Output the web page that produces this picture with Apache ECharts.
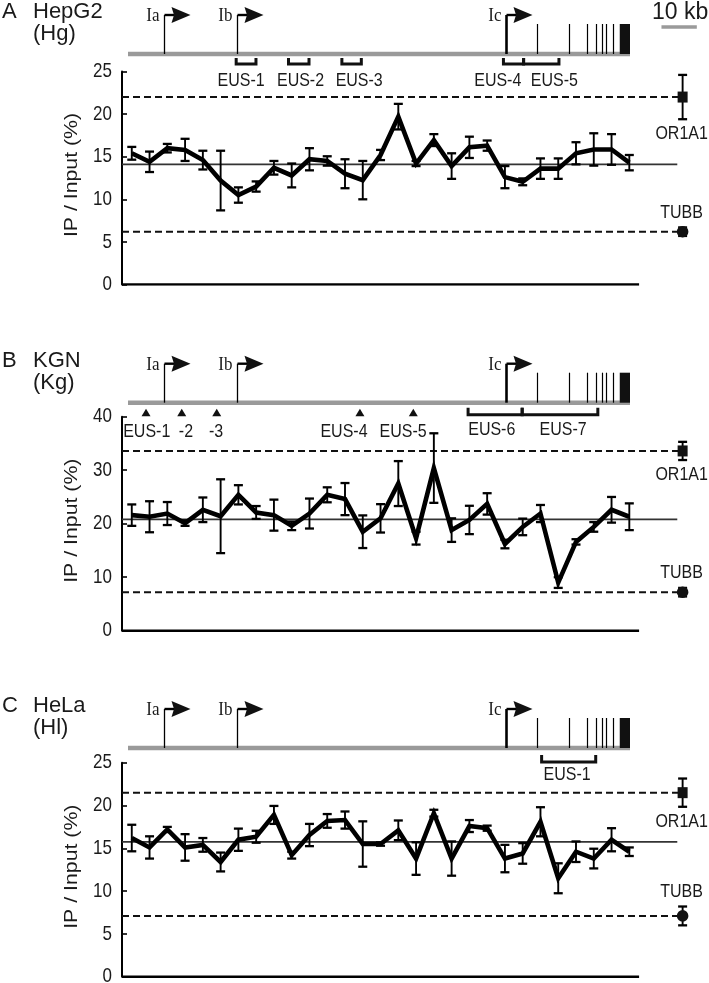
<!DOCTYPE html>
<html><head><meta charset="utf-8">
<script src="https://cdn.jsdelivr.net/npm/echarts@6/dist/echarts.min.js"></script>
<style>html,body{margin:0;padding:0;background:#fff}#c{width:709px;height:983px}</style>
</head><body><div id="c"></div>
<script>
// ---------------- DATA ----------------
const sites = [1,2,3,4,5,6,7,8,9,10,11,12,13,14,15,16,17,18,19,20,21,22,23,24,25,26,27,28,29];

const hgVals = [15.4,14.4,16.0,15.8,14.6,12.2,10.5,11.5,13.7,12.8,14.7,14.5,13.0,12.25,15.2,19.7,14.2,16.95,13.9,16.1,16.3,12.6,12.05,13.6,13.6,15.4,15.85,15.85,14.3];
const hgErr  = [0.75,1.2,0.5,1.3,1.1,3.5,0.9,0.6,0.8,1.4,1.3,0.55,1.7,2.25,0.6,1.5,0.3,0.7,1.5,1.25,0.6,1.3,0.4,1.2,1.2,1.3,1.9,1.8,0.9];
const hgMean = 14.1;
const hgCtrlVals = [22.0, 6.2];
const hgCtrlErr  = [2.6, 0.5];

const kgVals = [21.6,21.3,21.9,20.1,22.6,21.4,25.4,22.1,21.6,19.6,21.9,25.4,24.6,18.5,21.0,27.5,17.3,30.4,18.8,20.7,23.7,16.2,19.4,21.9,9.0,16.6,19.4,22.6,21.3];
const kgErr  = [2.0,2.9,2.15,0.5,2.3,6.9,1.8,1.2,2.9,0.8,2.8,1.4,3.0,3.05,2.65,4.2,1.2,6.5,2.2,2.65,2.0,0.8,1.55,1.6,1.0,0.5,0.9,2.4,2.5];
const kgMean = 20.8;
const kgCtrlVals = [33.6, 7.2];
const kgCtrlErr  = [1.7, 0.8];

const hlVals = [16.2,15.1,17.2,15.1,15.4,13.4,16.0,16.35,18.9,14.2,16.55,18.2,18.3,15.5,15.5,17.1,13.8,19.1,13.8,17.6,17.35,13.8,14.4,18.1,11.5,14.6,13.8,16.0,14.6];
const hlErr  = [1.55,1.3,0.3,1.55,0.8,1.1,1.3,0.7,1.05,0.4,1.3,0.8,1.0,2.65,0.2,1.15,1.9,0.4,2.0,0.7,0.3,1.6,1.2,1.7,1.75,1.2,1.15,1.35,0.5];
const hlMean = 15.75;
const hlCtrlVals = [21.5, 7.1];
const hlCtrlErr  = [1.65, 1.1];

const ctrlNames = ['OR1A1', 'TUBB'];
const controlSite = 32;           // x position (site units) of control markers

const hgTicks = [0,5,10,15,20,25];
const kgTicks = [0,10,20,30,40];
const hlTicks = [0,5,10,15,20,25];

const panelLetters = ['A','B','C'];
const cellNames = ['HepG2','KGN','HeLa'];
const cellAbbr = ['(Hg)','(Kg)','(Hl)'];
const yAxisName = 'IP / Input (%)';

// gene structure (kb)
const promoterNames = ['Ia','Ib','Ic'];
const promoterKb = [10.2, 30.9, 107.0];
const exonKb = [115.8, 124.7, 129.7, 132.5, 134.2, 135.3, 137.3];
const lastExonKb = [139.1, 142.0];
const geneSpanKb = [0, 142];
const scaleBarKb = [150.9, 160.9];
const scaleBarLabel = '10 kb';

// EUS regions / sites
const hgRegionNames = ['EUS-1','EUS-2','EUS-3','EUS-4','EUS-5'];
const hgRegionStart = [30.6, 45.4, 60.5, 106.2, 111.9];
const hgRegionEnd   = [36.2, 51.2, 66.0, 111.9, 121.9];
const hgRegionLabel = [32.0, 48.8, 65.4, 104.6, 120.6];

const kgSiteNames = ['EUS-1','-2','-3','EUS-4','EUS-5'];
const kgSiteKb    = [5.1, 15.2, 25.1, 65.6, 80.7];
const kgSiteLabel = [5.3, 16.4, 24.9, 61.1, 77.8];
const kgRegionNames = ['EUS-6','EUS-7'];
const kgRegionStart = [96.2, 111.5];
const kgRegionEnd   = [111.5, 132.9];
const kgRegionLabel = [102.9, 123.1];

const hlRegionNames = ['EUS-1'];
const hlRegionStart = [117.0];
const hlRegionEnd   = [132.3];
const hlRegionLabel = [124.2];

// ---------------- LAYOUT / STYLE ----------------
const FONT = "'Liberation Sans', Arial, sans-serif";
const SERIF = "'Liberation Serif', 'Times New Roman', serif";
const TXT = '#1a1a1a';
const STRETCH = 1.2;   // the figure's lettering is taller than it is wide
const mainX = {left:122, width:569.5, min:0.45, max:32.5, axisEnd:29.55, meanEnd:31.7, dashEnd:31.85};
const panels = [
  {vals:hgVals, err:hgErr, mean:hgMean, cv:hgCtrlVals, ce:hgCtrlErr, ticks:hgTicks, top:71.5, h:213, geneY:54,
   regions:{names:hgRegionNames, s:hgRegionStart, e:hgRegionEnd, l:hgRegionLabel, off:[4,10], labOff:27}, sites:null},
  {vals:kgVals, err:kgErr, mean:kgMean, cv:kgCtrlVals, ce:kgCtrlErr, ticks:kgTicks, top:416.7, h:214, geneY:402.7,
   regions:{names:kgRegionNames, s:kgRegionStart, e:kgRegionEnd, l:kgRegionLabel, off:[5,12], labOff:27.5},
   sites:{names:kgSiteNames, kb:kgSiteKb, l:kgSiteLabel}},
  {vals:hlVals, err:hlErr, mean:hlMean, cv:hlCtrlVals, ce:hlCtrlErr, ticks:hlTicks, top:762.7, h:214, geneY:748,
   regions:{names:hlRegionNames, s:hlRegionStart, e:hlRegionEnd, l:hlRegionLabel, off:[7,14], labOff:27}, sites:null}
];
const geneGrid = {left:128, width:572, min:0, max:161.8};

const grids = [], xAxes = [], yAxes = [], series = [], graphics = [];

function stext(txt, x, y, size, align, vAlign, fam, sy) {
  return {type:'text', x:x, y:y, scaleY: sy || STRETCH,
    style:{text:txt, x:0, y:0, fill:TXT, font: size + 'px ' + (fam || FONT), align:align, verticalAlign:vAlign}};
}

function errRender(params, api) {
  const x = api.value(0), v = api.value(1), e = api.value(2);
  const t = api.coord([x, v + e]), b = api.coord([x, v - e]);
  const cap = 4.5;
  return {type:'group', children:[
    {type:'line', shape:{x1:t[0], y1:t[1], x2:b[0], y2:b[1]}, style:{stroke:'#000', lineWidth:1.9}},
    {type:'line', shape:{x1:t[0]-cap, y1:t[1], x2:t[0]+cap, y2:t[1]}, style:{stroke:'#000', lineWidth:2.3}},
    {type:'line', shape:{x1:b[0]-cap, y1:b[1], x2:b[0]+cap, y2:b[1]}, style:{stroke:'#000', lineWidth:2.3}}
  ]};
}

function ctrlRender(params, api) {
  const x = api.value(0), v = api.value(1), e = api.value(2), k = api.value(3);
  const c = api.coord([x, v]), t = api.coord([x, v + e]), b = api.coord([x, v - e]);
  const cap = 4.5;
  const ch = [
    {type:'line', shape:{x1:t[0], y1:t[1], x2:b[0], y2:b[1]}, style:{stroke:'#000', lineWidth:1.9}},
    {type:'line', shape:{x1:t[0]-cap, y1:t[1], x2:t[0]+cap, y2:t[1]}, style:{stroke:'#000', lineWidth:2.3}},
    {type:'line', shape:{x1:b[0]-cap, y1:b[1], x2:b[0]+cap, y2:b[1]}, style:{stroke:'#000', lineWidth:2.3}}
  ];
  if (k === 0) {
    ch.push({type:'rect', shape:{x:c[0]-5, y:c[1]-5.5, width:10, height:11}, style:{fill:'#111'}});
    ch.push(stext(ctrlNames[0], c[0]-1, b[1]+15, 16, 'center', 'middle'));
  } else {
    ch.push({type:'circle', shape:{cx:c[0], cy:c[1], r:5.8}, style:{fill:'#111'}});
    ch.push(stext(ctrlNames[1], c[0]-1, t[1]-15, 16, 'center', 'middle'));
  }
  return {type:'group', children:ch};
}

function makeTickRender(P) {
  return function (params, api) {
    const p = api.coord([api.value(0), api.value(1)]);
    const ch = [stext(String(api.value(1)), p[0]-10, p[1], 17, 'right', 'middle')];
    if (params.dataIndex === 0) {
      const lo = P.ticks[0], hi = P.ticks[P.ticks.length-1];
      const m = api.coord([api.value(0), (lo + hi) / 2]);
      ch.push({type:'text', x:m[0]-50, y:m[1]-3, rotation:Math.PI/2, scaleX:1.12,
        style:{text:yAxisName, x:0, y:0, fill:TXT, font:'19px ' + FONT, align:'center', verticalAlign:'middle'}});
    }
    return {type:'group', children:ch};
  };
}

function promoterRender(params, api) {
  const kb = api.value(0), k = api.value(1);
  const p = api.coord([kb, 0]);
  const x = Math.round(p[0]) + 0.5, y0 = p[1];
  const ay = y0 - 39;
  const thick = k === 2;
  return {type:'group', children:[
    {type:'line', shape:{x1:x, y1:y0, x2:x, y2:ay}, style:{stroke:'#000', lineWidth: thick ? 2.6 : 1.3}},
    {type:'line', shape:{x1:x, y1:ay, x2:x+12, y2:ay}, style:{stroke:'#000', lineWidth:2.4}},
    {type:'polygon', shape:{points:[[x+7, ay-8],[x+26, ay],[x+7, ay+8],[x+9.5, ay]]}, style:{fill:'#111'}},
    stext(promoterNames[k], x-5, ay+1, 17, 'right', 'middle', SERIF, 1.1)
  ]};
}

function exonRender(params, api) {
  const p = api.coord([api.value(0), 0]);
  const x = Math.round(p[0]) + 0.5;
  return {type:'line', shape:{x1:x, y1:p[1], x2:x, y2:p[1]-30}, style:{stroke:'#000', lineWidth:1.2}};
}

function blockRender(params, api) {
  const a = api.coord([api.value(0), 0]), b = api.coord([api.value(1), 0]);
  return {type:'rect', shape:{x:a[0], y:a[1]-30, width:b[0]-a[0], height:30}, style:{fill:'#111'}};
}

function scaleRender(params, api) {
  const a = api.coord([api.value(0), 0]), b = api.coord([api.value(1), 0]);
  const y = a[1] - 27;
  return {type:'group', children:[
    {type:'line', shape:{x1:a[0], y1:y, x2:b[0], y2:y}, style:{stroke:'#9a9a9a', lineWidth:3.5}},
    stext(scaleBarLabel, (a[0]+b[0])/2 + 1, y-14, 23, 'center', 'middle', FONT, 1)
  ]};
}

function makeRegionRender(reg) {
  return function (params, api) {
    const i = params.dataIndex;
    const a = api.coord([api.value(0), 0]), b = api.coord([api.value(1), 0]), l = api.coord([api.value(2), 0]);
    const yT = a[1] + reg.off[0], yB = a[1] + reg.off[1];
    return {type:'group', children:[
      {type:'polyline', shape:{points:[[a[0], yT],[a[0], yB],[b[0], yB],[b[0], yT]]}, style:{stroke:'#111', lineWidth:3, fill:null}},
      stext(reg.names[i], l[0], a[1] + reg.labOff, 16, 'center', 'middle')
    ]};
  };
}

function makeSiteRender(st) {
  return function (params, api) {
    const i = params.dataIndex;
    const p = api.coord([api.value(0), 0]), l = api.coord([api.value(1), 0]);
    const cy = p[1] + 10;
    return {type:'group', children:[
      {type:'polygon', shape:{points:[[p[0]-4.5, cy+3.5],[p[0], cy-4],[p[0]+4.5, cy+3.5]]}, style:{fill:'#111'}},
      stext(st.names[i], l[0], p[1] + 29, 16, 'center', 'middle')
    ]};
  };
}

panels.forEach((P, pi) => {
  grids.push({left:mainX.left, width:mainX.width, top:P.top, height:P.h});
  const gi = grids.length - 1;
  xAxes.push({gridIndex:gi, type:'value', min:mainX.min, max:mainX.max, show:false});
  const yMax = P.ticks[P.ticks.length-1];
  const yInt = P.ticks[1] - P.ticks[0];
  yAxes.push({gridIndex:gi, type:'value', min:P.ticks[0], max:yMax, interval:yInt,
    axisLine:{show:true, lineStyle:{color:'#000', width:2}},
    axisTick:{show:true, inside:true, length:5, lineStyle:{color:'#000', width:1.6}},
    axisLabel:{show:false},
    splitLine:{show:false}});
  const ax = {xAxisIndex:gi, yAxisIndex:gi};
  series.push(Object.assign({type:'custom', renderItem:makeTickRender(P), z:2, silent:true,
    data: P.ticks.map(t => [mainX.min, t])}, ax));
  series.push(Object.assign({type:'line', data:[[mainX.min, 0],[mainX.axisEnd, 0]], symbol:'none', silent:true,
    lineStyle:{color:'#000', width:2.4}, z:2}, ax));
  series.push(Object.assign({type:'line', data:[[mainX.min, P.mean],[mainX.meanEnd, P.mean]], symbol:'none', silent:true,
    lineStyle:{color:'#333', width:1.6}, z:1}, ax));
  P.cv.forEach(v => {
    series.push(Object.assign({type:'line', data:[[mainX.min, v],[mainX.dashEnd, v]], symbol:'none', silent:true,
      lineStyle:{color:'#111', width:2, type:[7,4]}, z:1}, ax));
  });
  series.push(Object.assign({type:'custom', renderItem:errRender, z:3,
    data: sites.map((s, i) => [s, P.vals[i], P.err[i]])}, ax));
  series.push(Object.assign({type:'line', data: sites.map((s, i) => [s, P.vals[i]]), symbol:'none',
    lineStyle:{color:'#000', width:4.6, join:'miter'}, z:4}, ax));
  series.push(Object.assign({type:'custom', renderItem:ctrlRender, z:4,
    data: P.cv.map((v, k) => [controlSite, v, P.ce[k], k])}, ax));

  grids.push({left:geneGrid.left, width:geneGrid.width, top:P.geneY - 10, height:20});
  const gg = grids.length - 1;
  xAxes.push({gridIndex:gg, type:'value', min:geneGrid.min, max:geneGrid.max, show:false});
  yAxes.push({gridIndex:gg, type:'value', min:-1, max:1, show:false});
  const gx = {xAxisIndex:gg, yAxisIndex:gg};
  series.push(Object.assign({type:'line', data:[[geneSpanKb[0],0],[geneSpanKb[1],0]], symbol:'none', silent:true,
    lineStyle:{color:'#9a9a9a', width:4.5}, z:1}, gx));
  series.push(Object.assign({type:'custom', renderItem:promoterRender, z:3,
    data: promoterKb.map((kb, k) => [kb, k])}, gx));
  series.push(Object.assign({type:'custom', renderItem:exonRender, z:3, data: exonKb.map(kb => [kb])}, gx));
  series.push(Object.assign({type:'custom', renderItem:blockRender, z:3, data:[[lastExonKb[0], lastExonKb[1]]]}, gx));
  if (pi === 0) {
    series.push(Object.assign({type:'custom', renderItem:scaleRender, z:3, data:[[scaleBarKb[0], scaleBarKb[1]]]}, gx));
  }
  const R = P.regions;
  series.push(Object.assign({type:'custom', renderItem:makeRegionRender(R), z:3,
    data: R.names.map((n, i) => [R.s[i], R.e[i], R.l[i]])}, gx));
  if (P.sites) {
    const S = P.sites;
    series.push(Object.assign({type:'custom', renderItem:makeSiteRender(S), z:3,
      data: S.names.map((n, i) => [S.kb[i], S.l[i]])}, gx));
  }

  const ty = P.geneY - 41;
  graphics.push({type:'text', left:2, top:ty - 12, style:{text:panelLetters[pi], font:'22px ' + FONT, fill:TXT}});
  graphics.push({type:'text', left:33, top:ty - 12, style:{text:cellNames[pi], font:'22px ' + FONT, fill:TXT}});
  graphics.push({type:'text', left:33, top:ty + 10, style:{text:cellAbbr[pi], font:'22px ' + FONT, fill:TXT}});
});

const chart = echarts.init(document.getElementById('c'));
chart.setOption({
  backgroundColor:'#fff',
  animation:false,
  grid:grids, xAxis:xAxes, yAxis:yAxes, series:series, graphic:graphics
});
</script>
</body></html>
